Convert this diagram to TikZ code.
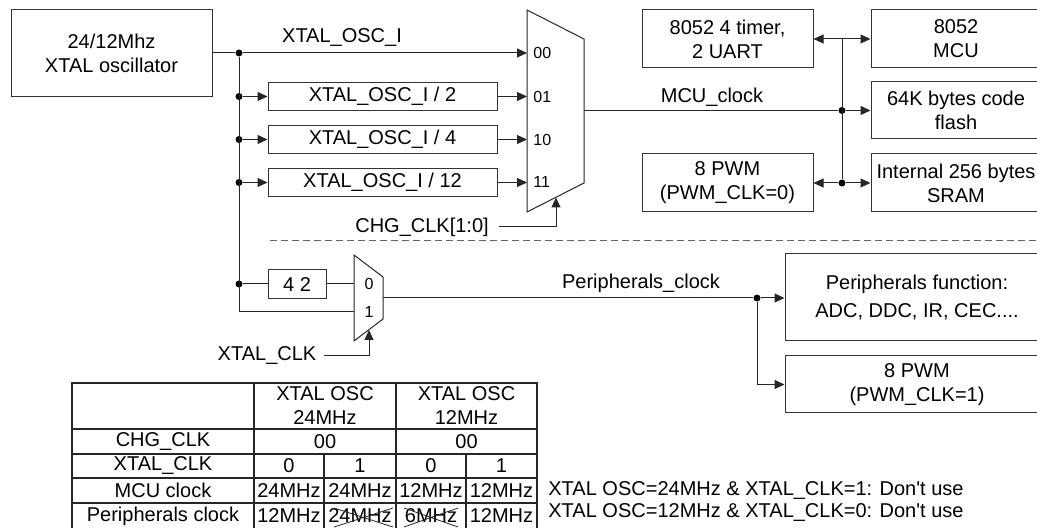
\documentclass[tikz,border=0pt]{standalone}
\usepackage{fontspec}
\setmainfont{Liberation Sans}
\usetikzlibrary{arrows.meta}
\begin{document}
\begin{tikzpicture}[x=0.5pt,y=-0.5pt,
  box/.style={draw=black!80, line width=0.5pt, inner sep=0pt, align=center, font=\fontsize{10}{12}\selectfont},
  txt/.style={inner sep=0pt, align=center, font=\fontsize{10}{12}\selectfont},
  small/.style={inner sep=0pt, font=\fontsize{8}{9}\selectfont},
  wire/.style={draw=black!85, line width=0.5pt},
  arr/.style={wire, -{Triangle[length=5pt,width=4.5pt]}},
  dot/.style={circle, fill=black, inner sep=0pt, minimum size=3.5pt},
  muxs/.style={draw=black!85, line width=0.5pt},
  grid/.style={draw=black!85, line width=0.6pt},
  sep/.style={draw=black!60, line width=0.5pt, dash pattern=on 3.5pt off 2pt},
]
\useasboundingbox (0,0) rectangle (1037,528);
\clip (0,0) rectangle (1037,528);

% ---------- top: clock source and dividers ----------
\node[box, minimum width=100.5pt, minimum height=43.5pt] (osc) at (111.5,53) {24/12Mhz\\XTAL oscillator};
\node[box, minimum width=114.5pt, minimum height=14pt] (d2) at (382.5,96.5) {XTAL\_OSC\_I / 2};
\node[box, minimum width=114.5pt, minimum height=14pt] (d4) at (382.5,139.5) {XTAL\_OSC\_I / 4};
\node[box, minimum width=114.5pt, minimum height=14pt] (d12) at (382.5,182.5) {XTAL\_OSC\_I / 12};

\node[dot] (j0) at (239,53) {};
\node[dot] (j1) at (239,96.5) {};
\node[dot] (j2) at (239,139.5) {};
\node[dot] (j3) at (239,182.5) {};
\node[dot] (j4) at (239,284) {};
\coordinate (busB) at (239,312);

% mux 1
\draw[muxs] (527,10) -- (584,39) -- (584,183) -- (527,212) -- cycle;
\coordinate (m00) at (527,53);
\coordinate (m01) at (527,96.5);
\coordinate (m10) at (527,139.5);
\coordinate (m11) at (527,182.5);
\coordinate (m1o) at (584,110);
\coordinate (m1s) at (556,197.5);
\node[small, anchor=west] (l00) at (533,53) {00};
\node[small, anchor=west] (l01) at (533,96.5) {01};
\node[small, anchor=west] (l10) at (533,139.5) {10};
\node[small, anchor=west] (l11) at (533,182.5) {11};

\node[txt] (lxo) at (342,38) {XTAL\_OSC\_I};
\draw[wire] (osc.east |- j0) -- (j0);
\draw[arr] (j0) -- (m00);
\draw[wire] (j0) -- (busB);
\draw[arr] (j1) -- (d2.west);
\draw[arr] (j2) -- (d4.west);
\draw[arr] (j3) -- (d12.west);
\draw[arr] (d2.east) -- (m01);
\draw[arr] (d4.east) -- (m10);
\draw[arr] (d12.east) -- (m11);

\node[txt, outer xsep=5pt] (lchg) at (422,227) {CHG\_CLK[1:0]};
\draw[arr] (lchg.east) -| (m1s);

% ---------- top right: MCU blocks ----------
\node[box, minimum width=85.5pt, minimum height=29pt] (tmr) at (727.5,39) {8052 4 timer,\\2 UART};
\node[box, minimum width=85pt, minimum height=29pt] (mcu) at (956,39) {8052\\MCU};
\node[box, minimum width=85pt, minimum height=28.5pt] (flash) at (956,110.5) {64K bytes code\\flash};
\node[box, minimum width=85.5pt, minimum height=29pt] (pwm0) at (727.5,183) {8 PWM\\(PWM\_CLK=0)};
\node[box, minimum width=85pt, minimum height=29pt] (sram) at (956,183) {Internal 256 bytes\\SRAM};

\coordinate (k0) at (842,39);
\node[dot] (k1) at (842,110.5) {};
\node[dot] (k2) at (842,183) {};
\node[txt] (lmcu) at (712,97) {MCU\_clock};
\draw[wire] (m1o |- k1) -- (k1);
\draw[arr] (k1) -- (flash.west);
\draw[wire] (k0) -- (k2);
\draw[arr] (k0) -- (tmr.east);
\draw[arr] (k0) -- (mcu.west);
\draw[arr] (k2) -- (pwm0.east);
\draw[arr] (k2) -- (sram.west);

% ---------- separator ----------
\coordinate (sA) at (270,241);
\coordinate (sB) at (1040,241);
\draw[sep] (sA) -- (sB);

% ---------- bottom: peripheral clock ----------
\node[box, minimum width=29pt, minimum height=14.5pt] (div42) at (297,284.5) {4 2};
\draw[muxs] (354,255) -- (383,277) -- (383,319) -- (354,341) -- cycle;
\coordinate (m20) at (354,284);
\coordinate (m21) at (354,312);
\coordinate (m2o) at (383,298);
\coordinate (m2s) at (369,330);
\node[small] (l0) at (369,284) {0};
\node[small] (l1) at (369,312) {1};
\draw[wire] (j4) -- (div42.west |- j4);
\draw[wire] (div42.east |- m20) -- (m20);
\draw[wire] (busB) -- (m21);

\node[txt, outer xsep=4pt] (lxc) at (267,356) {XTAL\_CLK};
\draw[arr] (lxc.east) -| (m2s);

\node[box, minimum width=132pt, minimum height=43.5pt] (pf) at (917,297.5) {Peripherals function:\\[2pt]ADC, DDC, IR, CEC....};
\node[box, minimum width=132pt, minimum height=28.5pt] (pwm1) at (917,384.5) {8 PWM\\(PWM\_CLK=1)};
\node[dot] (p1) at (757,298) {};
\node[txt] (lpc) at (641,283) {Peripherals\_clock};
\draw[wire] (m2o) -- (p1);
\draw[arr] (p1) -- (pf.west |- p1);
\draw[arr] (p1) |- (pwm1.west);

% ---------- table ----------
\draw[grid] (72,383) rectangle (537,529);
\foreach \yy in {429,454,478,503} \draw[grid] (72,\yy) -- (537,\yy);
\foreach \xx in {254,396} \draw[grid] (\xx,383) -- (\xx,529);
\foreach \xx in {324,466} \draw[grid] (\xx,454) -- (\xx,529);

\node[txt] (h1) at (325,406) {XTAL OSC\\24MHz};
\node[txt] (h2) at (466.5,406) {XTAL OSC\\12MHz};

\node[txt] (r1) at (163,441.5) {CHG\_CLK};
\node[txt] (r1a) at (325,441.5) {00};
\node[txt] (r1b) at (466.5,441.5) {00};

\node[txt] (r2) at (163,466) {XTAL\_CLK};
\node[txt] (r2a) at (289,466) {0};
\node[txt] (r2b) at (360,466) {1};
\node[txt] (r2c) at (431,466) {0};
\node[txt] (r2d) at (501.5,466) {1};

\node[txt] (r3) at (163,490.5) {MCU clock};
\node[txt] (r3a) at (289,490.5) {24MHz};
\node[txt] (r3b) at (360,490.5) {24MHz};
\node[txt] (r3c) at (431,490.5) {12MHz};
\node[txt] (r3d) at (501.5,490.5) {12MHz};

\node[txt] (r4) at (163,516) {Peripherals clock};
\node[txt] (r4a) at (289,516) {12MHz};
\node[txt] (r4b) at (360,516) {24MHz};
\node[txt] (r4c) at (431,516) {6MHz};
\node[txt] (r4d) at (501.5,516) {12MHz};
\draw[wire, line width=0.4pt] (334,508) -- (393,527) (334,527) -- (393,508);
\draw[wire, line width=0.4pt] (404,508) -- (458,527) (404,527) -- (458,508);

\node[txt, anchor=west] (n1) at (548,491) {XTAL OSC=24MHz \& XTAL\_CLK=1: Don\textquotesingle t use};
\node[txt, anchor=west] (n2) at (548,513) {XTAL OSC=12MHz \& XTAL\_CLK=0: Don\textquotesingle t use};
\end{tikzpicture}
\end{document}
